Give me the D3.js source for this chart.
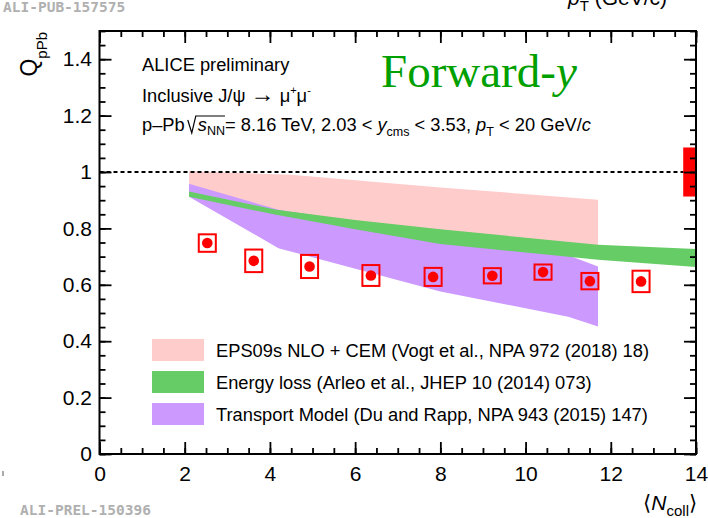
<!DOCTYPE html>
<html>
<head>
<meta charset="utf-8">
<script src="https://cdn.jsdelivr.net/npm/d3@7"></script>
<style>
  html, body { margin: 0; padding: 0; background: #fff; }
  svg { display: block; font-family: "Liberation Sans", Arial, sans-serif; }
  .axis text { font-size: 21px; fill: #000; }
  .axis line { stroke: #000; stroke-width: 1.8; }
  .axis path { display: none; }
</style>
</head>
<body>
<svg id="chart" width="708" height="518"></svg>
<script>
// data points
const ncoll = [2.53, 3.62, 4.93, 6.37, 7.83, 9.22, 10.41, 11.51, 12.71];
const qppb  = [0.748, 0.685, 0.665, 0.633, 0.628, 0.632, 0.645, 0.613, 0.612];
const syst  = [0.031, 0.040, 0.041, 0.037, 0.032, 0.027, 0.027, 0.029, 0.038];
const xSyst = 0.2;
const normUnc = 0.087;

// model bands
const epsX  = [2.1, 4.5, 8.0, 11.7];
const epsHi = [1.003, 0.99, 0.945, 0.902];
const epsLo = [0.925, 0.855, 0.785, 0.735];

const elossX  = [2.1, 4.15, 6.0, 8.0, 11.7, 14.0];
const elossHi = [0.931, 0.866, 0.83, 0.797, 0.742, 0.727];
const elossLo = [0.912, 0.848, 0.797, 0.745, 0.689, 0.663];

const trX  = [2.1, 4.2, 8.0, 11.0, 11.7];
const trHi = [0.958, 0.866, 0.775, 0.705, 0.665];
const trLo = [0.912, 0.73, 0.576, 0.487, 0.452];

const xTicks = [0, 2, 4, 6, 8, 10, 12, 14];
const yTicks = [0, 0.2, 0.4, 0.6, 0.8, 1, 1.2, 1.4];

const legend = [
  { label: "EPS09s NLO + CEM (Vogt et al., NPA 972 (2018) 18)", color: "#ffcccc" },
  { label: "Energy loss (Arleo et al., JHEP 10 (2014) 073)", color: "#66cc66" },
  { label: "Transport Model (Du and Rapp, NPA 943 (2015) 147)", color: "#cc99ff" }
];

const svg = d3.select("#chart");

const x = d3.scaleLinear().domain([0, 14]).range([99.5, 696]);
const y = d3.scaleLinear().domain([0, 1.5]).range([454, 31]);

const [x0, x1] = x.range();
const [y0, y1] = y.range();

// clip to frame
svg.append("clipPath").attr("id", "frame")
  .append("rect")
  .attr("x", x0).attr("y", y1).attr("width", x1 - x0).attr("height", y0 - y1);

const plot = svg.append("g").attr("clip-path", "url(#frame)");

function band(xs, hi, lo, color){
  const pts = xs.map((d, i) => ({ x: d, hi: hi[i], lo: lo[i] }));
  const area = d3.area()
    .x(d => x(d.x))
    .y0(d => y(d.lo))
    .y1(d => y(d.hi));
  plot.append("path").datum(pts).attr("d", area).attr("fill", color);
}

band(epsX, epsHi, epsLo, legend[0].color);
band(trX, trHi, trLo, legend[2].color);
band(elossX, elossHi, elossLo, legend[1].color);

// unity line
plot.append("line")
  .attr("x1", x(0)).attr("x2", x(14))
  .attr("y1", y(1)).attr("y2", y(1))
  .attr("stroke", "#000").attr("stroke-width", 2)
  .attr("stroke-dasharray", "4,3");

// global normalisation box
plot.append("rect")
  .attr("x", x(13.7)).attr("width", x(14) - x(13.7))
  .attr("y", y(1 + normUnc)).attr("height", y(1 - normUnc) - y(1 + normUnc))
  .attr("fill", "#ff0000");

// data
const pts = ncoll.map((d, i) => ({ x: d, v: qppb[i], s: syst[i] }));

plot.append("g").selectAll("rect")
  .data(pts).join("rect")
  .attr("x", d => x(d.x - xSyst))
  .attr("width", d => x(d.x + xSyst) - x(d.x - xSyst))
  .attr("y", d => y(d.v + d.s))
  .attr("height", d => y(d.v - d.s) - y(d.v + d.s))
  .attr("fill", "none").attr("stroke", "#ff0000").attr("stroke-width", 2);

plot.append("g").selectAll("circle")
  .data(pts).join("circle")
  .attr("cx", d => x(d.x)).attr("cy", d => y(d.v))
  .attr("r", 5.3).attr("fill", "#ff0000");

// axes (ticks inward on all four sides)
const minorX = d3.range(0, 14.001, 0.5);
const minorY = d3.range(0, 1.5001, 0.05);

// tick marks only, no labels
function ticks(axis, pos, vals, size){
  axis.tickValues(vals).tickSize(-size).tickSizeOuter(0).tickFormat("");
  return svg.append("g").attr("class", "axis").attr("transform", pos).call(axis);
}

ticks(d3.axisBottom(x), `translate(0,${y0})`, minorX, 6);
ticks(d3.axisTop(x), `translate(0,${y1})`, minorX, 6);
ticks(d3.axisTop(x), `translate(0,${y1})`, xTicks, 12);
ticks(d3.axisLeft(y), `translate(${x0},0)`, minorY, 6);
ticks(d3.axisRight(y), `translate(${x1},0)`, minorY, 6);
ticks(d3.axisRight(y), `translate(${x1},0)`, yTicks, 12);

svg.append("g").attr("class", "axis")
  .attr("transform", `translate(0,${y0})`)
  .call(d3.axisBottom(x).tickValues(xTicks).tickSize(-12).tickPadding(12).tickFormat(d3.format("d")));

svg.append("g").attr("class", "axis")
  .attr("transform", `translate(${x0},0)`)
  .call(d3.axisLeft(y).tickValues(yTicks).tickSize(-12).tickPadding(7.5)
    .tickFormat(d => String(+d.toFixed(1))));

// frame
svg.append("rect")
  .attr("x", x0).attr("y", y1).attr("width", x1 - x0).attr("height", y0 - y1)
  .attr("fill", "none").attr("stroke", "#000").attr("stroke-width", 2);

// axis titles
const yt = svg.append("text")
  .attr("transform", "translate(37,32) rotate(-90)")
  .attr("text-anchor", "end")
  .attr("font-size", 23);
yt.append("tspan").text("Q");
yt.append("tspan").attr("font-size", 15).attr("dy", 10).text("pPb");

const xt = svg.append("text")
  .attr("x", 697).attr("y", 510)
  .attr("text-anchor", "end")
  .attr("font-size", 21);
xt.append("tspan").text("\u27E8");
xt.append("tspan").attr("font-style", "italic").text("N");
xt.append("tspan").attr("font-size", 15).attr("dy", 6).text("coll");
xt.append("tspan").attr("dy", -6).text("\u27E9");

// clipped title from the panel above
const pt = svg.append("text").attr("x", 568).attr("y", 5).attr("font-size", 21);
pt.append("tspan").attr("font-style", "italic").text("p");
pt.append("tspan").attr("font-size", 15).attr("dy", 6).text("T");
pt.append("tspan").attr("dy", -6).text(" (GeV/c)");

// header text
const fs = 18.3;
svg.append("text").attr("x", 142).attr("y", 71).attr("font-size", fs).text("ALICE preliminary");

const l2 = svg.append("text").attr("x", 142).attr("y", 102).attr("font-size", fs);
l2.append("tspan").text("Inclusive J/\u03C8 ");
l2.append("tspan").attr("font-size", 24).attr("dy", 0).text("\u2192");
l2.append("tspan").text(" \u03BC");
l2.append("tspan").attr("font-size", 11).attr("dy", -8).text("+");
l2.append("tspan").attr("dy", 8).text("\u03BC");
l2.append("tspan").attr("font-size", 11).attr("dy", -8).text("-");

const l3 = svg.append("text").attr("x", 142).attr("y", 131).attr("font-size", fs);
l3.append("tspan").text("p\u2013Pb ");
const rad = l3.append("tspan").attr("dx", 8).attr("font-style", "italic").text("s");
const nn = l3.append("tspan").attr("font-size", 12.5).attr("dy", 4).text("NN");
l3.append("tspan").attr("dy", -4).text("= 8.16 TeV, 2.03 < ");
l3.append("tspan").attr("font-style", "italic").text("y");
l3.append("tspan").attr("font-size", 12.5).attr("dy", 5).text("cms");
l3.append("tspan").attr("dy", -5).text(" < 3.53, ");
l3.append("tspan").attr("font-style", "italic").text("p");
l3.append("tspan").attr("font-size", 12.5).attr("dy", 5).text("T");
l3.append("tspan").attr("dy", -5).text(" < 20 GeV/");
l3.append("tspan").attr("font-style", "italic").text("c");

// radical sign over s_NN
const sx = rad.node().getStartPositionOfChar(0).x;
const nnEnd = nn.node().getEndPositionOfChar(1).x;
svg.append("path")
  .attr("d", `M${sx - 10},${120} L${sx - 6},${133} L${sx - 2},${116} L${nnEnd},${116}`)
  .attr("fill", "none").attr("stroke", "#000").attr("stroke-width", 1.2);

// Forward-y
const fw = svg.append("text").attr("x", 381).attr("y", 87)
  .attr("font-family", "'Liberation Serif', 'Times New Roman', serif")
  .attr("font-size", 47).attr("fill", "#00a000");
fw.append("tspan").text("Forward-");
fw.append("tspan").attr("font-style", "italic").text("y");

// legend
const lg = svg.append("g").selectAll("g")
  .data(legend).join("g")
  .attr("transform", (d, i) => `translate(152,${339 + i * 32})`);
lg.append("rect").attr("width", 52).attr("height", 22).attr("fill", d => d.color);
lg.append("text").attr("x", 64).attr("y", 18).attr("font-size", fs).text(d => d.label);

// watermarks
svg.append("text").attr("x", 3).attr("y", 12)
  .attr("font-family", "'DejaVu Sans Mono', 'Liberation Mono', monospace")
  .attr("font-weight", "bold").attr("font-size", 14.5).attr("fill", "#b0b0b0")
  .text("ALI-PUB-157575");
svg.append("text").attr("x", 20).attr("y", 515)
  .attr("font-family", "'DejaVu Sans Mono', 'Liberation Mono', monospace")
  .attr("font-weight", "bold").attr("font-size", 14.5).attr("fill", "#b0b0b0")
  .text("ALI-PREL-150396");
svg.append("line").attr("x1", 3).attr("x2", 3).attr("y1", 471).attr("y2", 476)
  .attr("stroke", "#555").attr("stroke-width", 1);
</script>
</body>
</html>
